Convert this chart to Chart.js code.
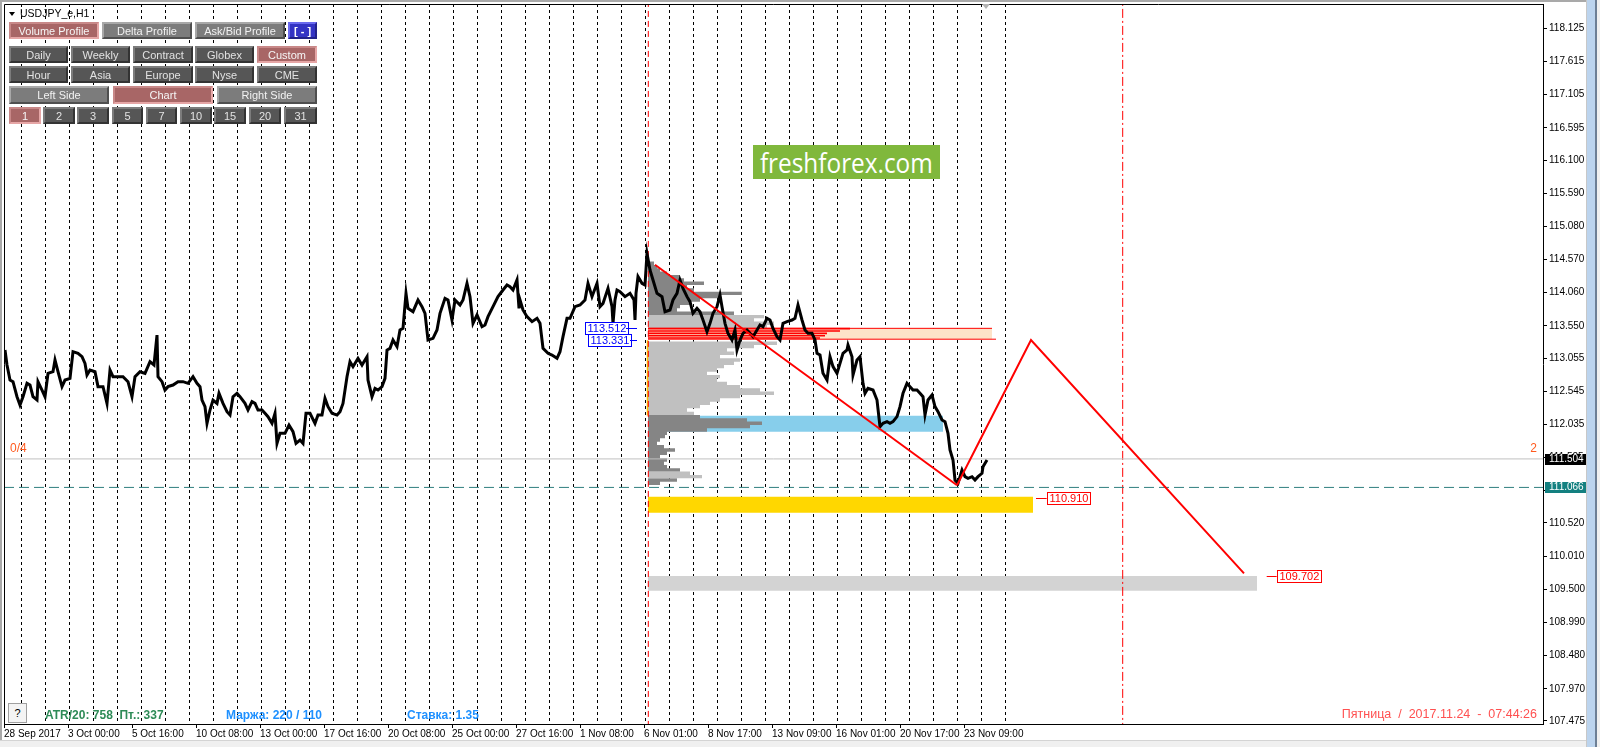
<!DOCTYPE html>
<html lang="ru">
<head>
<meta charset="UTF-8">
<title>USDJPY_e,H1</title>
<script src="https://cdn.jsdelivr.net/npm/chart.js"></script>
<style>
  html, body { margin: 0; padding: 0; background: #fff; overflow: hidden; }
  body { width: 1600px; height: 747px; position: relative; font-family: "Liberation Sans", Arial, sans-serif; }
  #chartBox { position: absolute; left: 0; top: 0; width: 1600px; height: 747px; }
  .abs { position: absolute; }
  .btn {
    position: absolute; box-sizing: border-box; font-size: 11px; color: #e2e2e2;
    display: flex; align-items: center; justify-content: center;
    border: 2px solid; white-space: nowrap;
  }
  .dark { background: #565656; border-color: #7c7c7c #333 #333 #7c7c7c; }
  .gray { background: #7c7c7c; border-color: #a8a8a8 #4f4f4f #4f4f4f #a8a8a8; color: #f2f2f2; }
  .rose { background: #a86666; border-color: #c88888 #e6a6a6 #e6a6a6 #c88888; color: #f6f6f6; }
  .blue { background: #3434c4; border-color: #6a6aee #22228a #22228a #6a6aee; color: #fff; font-weight: bold; }
  .info { position: absolute; top: 708px; line-height: 14px; font-size: 12px; font-weight: bold; white-space: nowrap; }
</style>
</head>
<body>
<div id="chartBox"><canvas id="mt4Chart" width="1600" height="747"></canvas></div>

<!-- symbol / panel buttons -->
<div class="abs" style="left:9px;top:12px;width:0;height:0;border-left:3.5px solid transparent;border-right:3.5px solid transparent;border-top:4px solid #000;"></div>
<div class="abs" style="left:20px;top:7px;font-size:10.5px;line-height:12px;">USDJPY_e,H1</div>

<div class="btn rose" style="left:9px;top:22px;width:90px;height:17px;">Volume Profile</div>
<div class="btn gray" style="left:102px;top:22px;width:90px;height:17px;">Delta Profile</div>
<div class="btn gray" style="left:195px;top:22px;width:90px;height:17px;">Ask/Bid Profile</div>
<div class="btn blue" style="left:288px;top:22px;width:29px;height:17px;">[ - ]</div>

<div class="btn dark" style="left:9px;top:46px;width:59px;height:17px;">Daily</div>
<div class="btn dark" style="left:71px;top:46px;width:59px;height:17px;">Weekly</div>
<div class="btn dark" style="left:133px;top:46px;width:60px;height:17px;">Contract</div>
<div class="btn dark" style="left:195px;top:46px;width:59px;height:17px;">Globex</div>
<div class="btn rose" style="left:257px;top:46px;width:60px;height:17px;">Custom</div>

<div class="btn dark" style="left:9px;top:66px;width:59px;height:17px;">Hour</div>
<div class="btn dark" style="left:71px;top:66px;width:59px;height:17px;">Asia</div>
<div class="btn dark" style="left:133px;top:66px;width:60px;height:17px;">Europe</div>
<div class="btn dark" style="left:195px;top:66px;width:59px;height:17px;">Nyse</div>
<div class="btn dark" style="left:257px;top:66px;width:60px;height:17px;">CME</div>

<div class="btn gray" style="left:9px;top:86px;width:100px;height:18px;">Left Side</div>
<div class="btn rose" style="left:113px;top:86px;width:100px;height:18px;">Chart</div>
<div class="btn gray" style="left:217px;top:86px;width:100px;height:18px;">Right Side</div>

<div class="btn rose" style="left:9px;top:107px;width:32px;height:17px;">1</div>
<div class="btn dark" style="left:43px;top:107px;width:32px;height:17px;">2</div>
<div class="btn dark" style="left:77px;top:107px;width:32px;height:17px;">3</div>
<div class="btn dark" style="left:112px;top:107px;width:31px;height:17px;">5</div>
<div class="btn dark" style="left:146px;top:107px;width:31px;height:17px;">7</div>
<div class="btn dark" style="left:180px;top:107px;width:32px;height:17px;">10</div>
<div class="btn dark" style="left:214px;top:107px;width:32px;height:17px;">15</div>
<div class="btn dark" style="left:249px;top:107px;width:32px;height:17px;">20</div>
<div class="btn dark" style="left:284px;top:107px;width:33px;height:17px;">31</div>

<!-- watermark -->
<div class="abs" style="left:753px;top:145px;width:187px;height:34px;background:#80b83c;color:#fff;display:flex;align-items:center;justify-content:center;overflow:hidden;">
  <span style="font-family:'Open Sans',sans-serif;font-size:28px;line-height:34px;display:inline-block;transform:scaleX(0.87);">freshforex.com</span>
</div>

<!-- chart shift marker -->
<div class="abs" style="left:982px;top:4px;width:0;height:0;border-left:4px solid transparent;border-right:4px solid transparent;border-top:5px solid #b4b4b4;"></div>

<!-- bottom info line -->
<div class="abs" style="left:8px;top:703px;width:19px;height:20px;box-sizing:border-box;background:#f4f4f4;border:1px solid #a0a0a0;font-size:11px;line-height:18px;text-align:center;">?</div>
<div class="info" style="left:45px;color:#2e8b57;">ATR/20: 758&nbsp;&nbsp;Пт.: 337</div>
<div class="info" style="left:226px;color:#1e90ff;">Маржа: 220 / 110</div>
<div class="info" style="left:407px;color:#1e90ff;">Ставка: 1.35</div>
<div class="abs" style="right:63px;top:707px;font-size:12.5px;line-height:14px;color:#ff5050;white-space:nowrap;">Пятница&nbsp; /&nbsp; 2017.11.24&nbsp; -&nbsp; 07:44:26</div>

<!-- window chrome -->
<div class="abs" style="left:0;top:0;width:1600px;height:2px;background:#a9a9a9;"></div>
<div class="abs" style="left:0;top:0;width:2px;height:747px;background:#a9a9a9;"></div>
<div class="abs" style="left:0;top:740px;width:1600px;height:7px;background:#f0f0f0;border-top:1px solid #d4d4d4;"></div>
<div class="abs" style="left:1586px;top:0;width:1px;height:747px;background:#c8c8c8;"></div>
<div class="abs" style="left:1587px;top:0;width:8px;height:747px;background:#bcd4ee;"></div>
<div class="abs" style="left:1595px;top:0;width:2px;height:747px;background:#6d7f95;"></div>
<div class="abs" style="left:1597px;top:0;width:3px;height:747px;background:#f0f0f0;"></div>

<script>
// ---- data ----
// right price axis
const yTicks = [118.125, 117.615, 117.105, 116.595, 116.100, 115.590, 115.080, 114.570, 114.060,
  113.550, 113.055, 112.545, 112.035, 111.525, 111.015, 110.520, 110.010, 109.500, 108.990,
  108.480, 107.970, 107.475];
const yMin = 107.4285;
const yMax = 118.4986;

// time axis, x is the bar number (one H1 bar per pixel)
const timeLabels = ['28 Sep 2017', '3 Oct 00:00', '5 Oct 16:00', '10 Oct 08:00', '13 Oct 00:00',
  '17 Oct 16:00', '20 Oct 08:00', '25 Oct 00:00', '27 Oct 16:00', '1 Nov 08:00', '6 Nov 01:00',
  '8 Nov 17:00', '13 Nov 09:00', '16 Nov 01:00', '20 Nov 17:00', '23 Nov 09:00'];
const timeLabelBars = [0, 64, 128, 192, 256, 320, 384, 448, 512, 576, 640, 704, 768, 832, 896, 960];
const barsVisible = 1539;

// day separators
const firstSeparator = 17.3;
const separatorStep = 24;
const separatorCount = 42;

// USDJPY H1 price trace
const priceBars = [
  1, 3, 6, 9, 13, 16, 19, 23, 26, 29, 33, 34, 38, 41, 44, 49, 51, 54, 58, 61,
  66, 69, 74, 78, 81, 83, 86, 91, 94, 99, 103, 106, 109, 114, 119, 124, 128, 131, 136, 141,
  146, 150, 153, 154, 158, 161, 164, 169, 174, 179, 184, 189, 193, 196, 198, 201, 203, 206, 209, 213,
  215, 219, 223, 226, 229, 233, 236, 241, 244, 248, 251, 254, 258, 261, 264, 268, 271, 273, 276, 281,
  285, 289, 292, 296, 299, 302, 306, 311, 314, 318, 321, 324, 328, 333, 336, 339, 343, 346, 349, 354,
  358, 361, 363, 364, 368, 371, 374, 378, 381, 383, 386, 389, 393, 396, 399, 402, 404, 409, 414, 418,
  421, 424, 429, 433, 436, 441, 444, 448, 451, 456, 459, 463, 466, 469, 473, 478, 481, 484, 489, 494,
  499, 503, 506, 509, 513, 515, 516, 519, 523, 528, 533, 536, 539, 544, 548, 553, 556, 559, 563, 566,
  571, 576, 581, 584, 588, 593, 596, 599, 604, 608, 609, 611, 613, 616, 621, 626, 630, 631, 632, 634,
  638, 641, 643, 646, 649, 653, 658, 661, 666, 669, 673, 676, 679, 683, 686, 689, 693, 696, 699, 703,
  706, 709, 713, 716, 718, 721, 724, 728, 731, 733, 736, 739, 743, 746, 749, 753, 756, 759, 763, 766,
  769, 773, 776, 779, 783, 788, 791, 794, 798, 801, 804, 808, 811, 813, 816, 819, 823, 826, 829, 833,
  836, 839, 843, 844, 848, 849, 853, 856, 859, 861, 864, 869, 873, 876, 879, 883, 886, 889, 893, 896,
  899, 903, 906, 909, 913, 916, 919, 921, 924, 928, 931, 934, 938, 941, 944, 946, 949, 951, 954, 958,
  961, 964, 968, 971, 974, 978, 979, 983];
const priceClose = [
  113.178, 112.948, 112.717, 112.692, 112.461, 112.333, 112.461, 112.666, 112.640, 112.461,
  112.410, 112.692, 112.563, 112.461, 112.820, 112.845, 113.025, 112.845, 112.615, 112.717,
  112.743, 113.153, 113.127, 113.076, 112.973, 112.794, 112.871, 112.845, 112.615, 112.615,
  112.358, 112.871, 112.768, 112.768, 112.768, 112.692, 112.461, 112.768, 112.845, 112.820,
  112.999, 112.948, 113.409, 112.768, 112.692, 112.563, 112.615, 112.640, 112.692, 112.692,
  112.666, 112.768, 112.666, 112.615, 112.410, 112.307, 112.051, 112.256, 112.410, 112.358,
  112.512, 112.358, 112.230, 112.179, 112.461, 112.512, 112.461, 112.358, 112.256, 112.384,
  112.358, 112.256, 112.256, 112.205, 112.153, 112.051, 112.205, 111.743, 111.897, 111.897,
  112.025, 111.923, 111.743, 111.795, 111.743, 112.205, 112.205, 112.051, 112.179, 112.179,
  112.435, 112.307, 112.205, 112.179, 112.230, 112.358, 112.768, 112.999, 112.922, 113.050,
  112.948, 113.025, 113.076, 112.717, 112.461, 112.589, 112.563, 112.615, 112.743, 113.178,
  113.204, 113.332, 113.230, 113.486, 113.512, 114.050, 113.819, 113.768, 113.947, 113.845,
  113.742, 113.332, 113.358, 113.486, 113.742, 113.973, 113.947, 113.640, 113.947, 113.870,
  113.947, 114.204, 113.999, 113.588, 113.717, 113.537, 113.563, 113.691, 113.845, 113.999,
  114.101, 114.178, 114.152, 114.101, 114.255, 113.819, 113.948, 113.794, 113.691, 113.615,
  113.666, 113.589, 113.205, 113.128, 113.102, 113.051, 113.153, 113.384, 113.666, 113.666,
  113.845, 113.871, 113.948, 114.204, 113.999, 114.204, 113.845, 113.896, 114.127, 113.845,
  113.589, 113.950, 114.102, 114.076, 113.999, 114.050, 113.948, 113.640, 114.050, 114.307,
  114.204, 114.178, 114.665, 114.409, 114.255, 114.050, 113.999, 113.768, 113.794, 113.948,
  114.050, 114.255, 114.127, 113.999, 113.922, 113.743, 113.820, 113.768, 113.640, 113.461,
  113.589, 113.743, 113.845, 114.025, 113.845, 113.589, 113.435, 113.333, 113.486, 113.179,
  113.333, 113.435, 113.486, 113.435, 113.384, 113.486, 113.563, 113.538, 113.666, 113.640,
  113.512, 113.384, 113.333, 113.589, 113.615, 113.640, 113.666, 113.871, 113.640, 113.486,
  113.435, 113.435, 113.333, 113.128, 113.102, 112.820, 112.718, 113.076, 112.923, 112.820,
  112.974, 113.128, 113.179, 113.256, 113.076, 112.795, 113.025, 113.076, 112.666, 112.513,
  112.590, 112.564, 112.410, 112.000, 112.051, 112.077, 112.051, 112.077, 112.154, 112.308,
  112.513, 112.666, 112.615, 112.564, 112.564, 112.513, 112.461, 112.180, 112.410, 112.487,
  112.308, 112.231, 112.103, 112.077, 111.898, 111.641, 111.488, 111.180, 111.129, 111.334,
  111.231, 111.206, 111.231, 111.180, 111.231, 111.283, 111.385, 111.488];

// volume profile (custom range from 6 Nov), length counted in bars
const profileStartBar = 644;
const profPrice = [114.512, 114.460, 114.409, 114.358, 114.307, 114.255, 114.204, 114.153, 114.102, 114.050,
  113.999, 113.948, 113.897, 113.845, 113.794, 113.743, 113.692, 113.640, 113.589, 113.538,
  113.282, 113.230, 113.179, 113.128, 113.076, 113.025, 112.974, 112.923, 112.871, 112.820,
  112.769, 112.718, 112.666, 112.615, 112.564, 112.513, 112.462, 112.410, 112.359, 112.308,
  112.257, 112.205, 112.154, 112.103, 112.052, 112.000, 111.949, 111.898, 111.847, 111.795,
  111.744, 111.693, 111.642, 111.590, 111.539, 111.488, 111.437, 111.385, 111.334, 111.283,
  111.232, 111.180, 111.129];
const profLen = [6, 9, 12, 19, 32, 36, 56, 39, 46, 94,
  72, 52, 42, 32, 29, 86, 116, 106, 126, 119,
  129, 106, 79, 86, 72, 92, 86, 76, 69, 59,
  72, 69, 79, 92, 112, 126, 92, 72, 62, 52,
  39, 46, 52, 99, 114, 102, 59, 19, 17, 12,
  9, 16, 27, 19, 12, 19, 16, 19, 32, 42,
  54, 29, 12];
const profTone = ['d', 'd', 'd', 'd', 'd', 'd', 'd', 'd', 'd', 'd',
  'd', 'd', 'd', 'd', 'd', 'd', 'l', 'l', 'l', 'l',
  'l', 'l', 'l', 'l', 'l', 'l', 'l', 'l', 'l', 'l',
  'l', 'l', 'l', 'l', 'l', 'l', 'l', 'l', 'l', 'l',
  'l', 'l', 'd', 'd', 'd', 'd', 'd', 'd', 'd', 'd',
  'd', 'd', 'd', 'd', 'd', 'd', 'd', 'd', 'd', 'l',
  'l', 'd', 'd'];
// point of control rows (red)
const pocPrice = [113.507, 113.471, 113.435, 113.399, 113.363];
const pocLen = [202, 192, 179, 177, 172];

// levels and objects
const bidPrice = 111.504;
const markPrice = 111.066;
const trendLine = [[651, 114.49], [953, 111.10]];
const zigzag = [[953, 111.10], [1027, 113.331], [1240, 109.745]];
const pocZone = { from: 644, to: 988, top: 113.512, bottom: 113.345 };
const blueZone = { from: 644, to: 939, top: 112.169, bottom: 111.923 };
const goldZone = { from: 644, to: 1029, top: 110.924, bottom: 110.677 };
const grayZone = { from: 644, to: 1253, top: 109.704, bottom: 109.478 };
const profileEdge = { bar: 643.5, top: 113.33, bottom: 112.17 };
const sessionStartBar = 644.3;
const futureMarkBar = 1118.7;

// boxed price labels: text = price, box left bar, connector from/to bars
const priceTags = [
  { price: 113.512, box: 581, lineFrom: 622, lineTo: 633, color: '#0000ff' },
  { price: 113.331, box: 584, lineFrom: 626, lineTo: 633, color: '#0000ff' },
  { price: 110.910, box: 1042.7, lineFrom: 1032, lineTo: 1042.7, color: '#ff0000' },
  { price: 109.702, box: 1272.7, lineFrom: 1262.7, lineTo: 1272.7, color: '#ff0000' }
];

// ---- building the datasets ----
Chart.defaults.font.family = '"Liberation Sans", Arial, sans-serif';

function segment(points, color, width, order, dash) {
  return {
    data: points.map(p => ({ x: p[0], y: p[1] })),
    borderColor: color, borderWidth: width, borderDash: dash || [],
    pointRadius: 0, fill: false, order: order
  };
}

function zone(z, color, order) {
  return {
    data: [{ x: z.from, y: z.top }, { x: z.to, y: z.top }],
    fill: { value: z.bottom }, backgroundColor: color,
    borderColor: 'rgba(0,0,0,0)', borderWidth: 0, pointRadius: 0, order: order
  };
}

function profileRows(prices, lens, keep, color, width, order) {
  const pts = [];
  prices.forEach((p, i) => {
    if (!keep(i)) return;
    pts.push({ x: profileStartBar, y: p }, { x: profileStartBar + lens[i], y: p }, { x: profileStartBar, y: null });
  });
  return {
    data: pts, borderColor: color, borderWidth: width, borderCapStyle: 'butt',
    pointRadius: 0, fill: false, spanGaps: false, order: order
  };
}

const datasets = [
  zone(grayZone, '#d3d3d3', 9),
  zone(goldZone, '#ffd700', 9),
  zone(blueZone, '#87ceeb', 9),
  zone(pocZone, '#fde3c8', 9),
  profileRows(profPrice, profLen, i => profTone[i] === 'l', '#c0c0c0', 3.4, 7),
  profileRows(profPrice, profLen, i => profTone[i] === 'd', '#858585', 3.4, 7),
  profileRows(pocPrice, pocLen, () => true, '#ff0000', 1.6, 6),
  segment([[pocZone.from, pocZone.top], [pocZone.to, pocZone.top]], '#ff0000', 1, 6),
  segment([[pocZone.from, pocZone.bottom], [pocZone.to + 4, pocZone.bottom]], '#ff0000', 1, 6),
  segment([[profileEdge.bar, profileEdge.top], [profileEdge.bar, profileEdge.bottom]], '#ffc000', 1.5, 6),
  segment([[0, bidPrice], [barsVisible, bidPrice]], '#c0c0c0', 1, 5),
  segment([[0, markPrice], [barsVisible, markPrice]], '#2f7f7f', 1, 5, [10, 5]),
  segment([[sessionStartBar, 106], [sessionStartBar, 119]], '#ff0000', 1, 5, [6, 4]),
  segment([[futureMarkBar, 106], [futureMarkBar, 119]], '#ff0000', 1, 5, [9, 3, 2, 3]),
  {
    data: priceBars.map((b, i) => ({ x: b, y: priceClose[i] })),
    borderColor: '#000', borderWidth: 3, borderJoinStyle: 'miter', pointRadius: 0, fill: false, order: 1
  },
  segment(trendLine, '#ff0000', 2, 0),
  segment(zigzag, '#ff0000', 2, 0)
];

// labels, axis price boxes and frame drawn on the scales
const overlayPlugin = {
  id: 'mt4Overlay',
  afterDraw(chart) {
    const { ctx, chartArea: a, scales: { x, y } } = chart;
    ctx.save();
    ctx.strokeStyle = '#000';
    ctx.lineWidth = 1;
    ctx.beginPath();
    ctx.moveTo(a.left + 0.5, a.bottom);
    ctx.lineTo(a.left + 0.5, a.top + 0.5);
    ctx.lineTo(a.right, a.top + 0.5);
    ctx.stroke();

    // axis boxes
    ctx.font = '10px "Liberation Sans", Arial, sans-serif';
    ctx.textBaseline = 'middle';
    [[bidPrice, '#000000'], [markPrice, '#138080']].forEach(([p, bg]) => {
      const py = Math.round(y.getPixelForValue(p));
      ctx.fillStyle = bg;
      ctx.fillRect(a.right + 2, py - 5, 42, 11);
      ctx.fillStyle = '#fff';
      ctx.fillText(p.toFixed(3), a.right + 6, py + 0.5);
    });

    // boxed labels
    ctx.font = '11px "Liberation Sans", Arial, sans-serif';
    priceTags.forEach(t => {
      const py = Math.round(y.getPixelForValue(t.price)) + 0.5;
      const txt = t.price.toFixed(3);
      const w = Math.ceil(ctx.measureText(txt).width) + 4;
      const bx = Math.round(x.getPixelForValue(t.box)) + 0.5;
      ctx.strokeStyle = t.color;
      ctx.fillStyle = '#fff';
      ctx.fillRect(bx, py - 6, w, 12);
      ctx.strokeRect(bx, py - 6, w, 12);
      ctx.beginPath();
      ctx.moveTo(x.getPixelForValue(t.lineFrom), py);
      ctx.lineTo(x.getPixelForValue(t.lineTo), py);
      ctx.stroke();
      ctx.fillStyle = t.color;
      ctx.fillText(txt, bx + 2, py + 0.5);
    });

    // corner counters
    ctx.font = '12px "Liberation Sans", Arial, sans-serif';
    ctx.fillStyle = '#ff5a1e';
    const cy = y.getPixelForValue(bidPrice) - 10;
    ctx.textAlign = 'left';
    ctx.fillText('0/4', a.left + 6, cy);
    ctx.textAlign = 'right';
    ctx.fillText('2', a.right - 6, cy);
    ctx.restore();
  }
};

new Chart(document.getElementById('mt4Chart'), {
  type: 'line',
  data: { datasets: datasets },
  options: {
    responsive: false,
    animation: false,
    devicePixelRatio: 1,
    layout: { padding: { left: 4, top: 4, right: 0, bottom: 0 } },
    plugins: { legend: { display: false }, tooltip: { enabled: false } },
    elements: { line: { tension: 0 }, point: { radius: 0 } },
    scales: {
      x: {
        type: 'linear', position: 'bottom', min: 0, max: barsVisible,
        afterBuildTicks: s => { s.ticks = timeLabelBars.map(v => ({ value: v })); },
        afterFit: s => { s.height = 23; s.paddingLeft = 0; s.paddingRight = 0; },
        ticks: {
          callback: (v, i) => timeLabels[i], align: 'start', autoSkip: false,
          maxRotation: 0, padding: 0, color: '#000', font: { size: 10 }
        },
        grid: { drawOnChartArea: false, drawTicks: true, tickLength: 4, color: '#000' },
        border: { color: '#000', width: 1 }
      },
      xs: {
        type: 'linear', position: 'top', min: 0, max: barsVisible,
        afterBuildTicks: s => {
          const t = [];
          for (let k = 0; k < separatorCount; k++) t.push({ value: firstSeparator + k * separatorStep });
          s.ticks = t;
        },
        afterFit: s => { s.height = 0; s.paddingLeft = 0; s.paddingRight = 0; },
        ticks: { display: false },
        grid: { drawTicks: false, color: '#000', lineWidth: 1 },
        border: { display: false, dash: [3, 3] }
      },
      y: {
        type: 'linear', position: 'right', min: yMin, max: yMax,
        afterBuildTicks: s => { s.ticks = yTicks.map(v => ({ value: v })); },
        afterFit: s => { s.width = 57; s.paddingTop = 0; s.paddingBottom = 0; },
        ticks: { callback: v => v.toFixed(3), padding: 2, color: '#000', font: { size: 10 }, autoSkip: false },
        grid: { drawOnChartArea: false, tickLength: 4, color: '#000' },
        border: { color: '#000', width: 1 }
      }
    }
  },
  plugins: [overlayPlugin]
});
</script>
</body>
</html>
